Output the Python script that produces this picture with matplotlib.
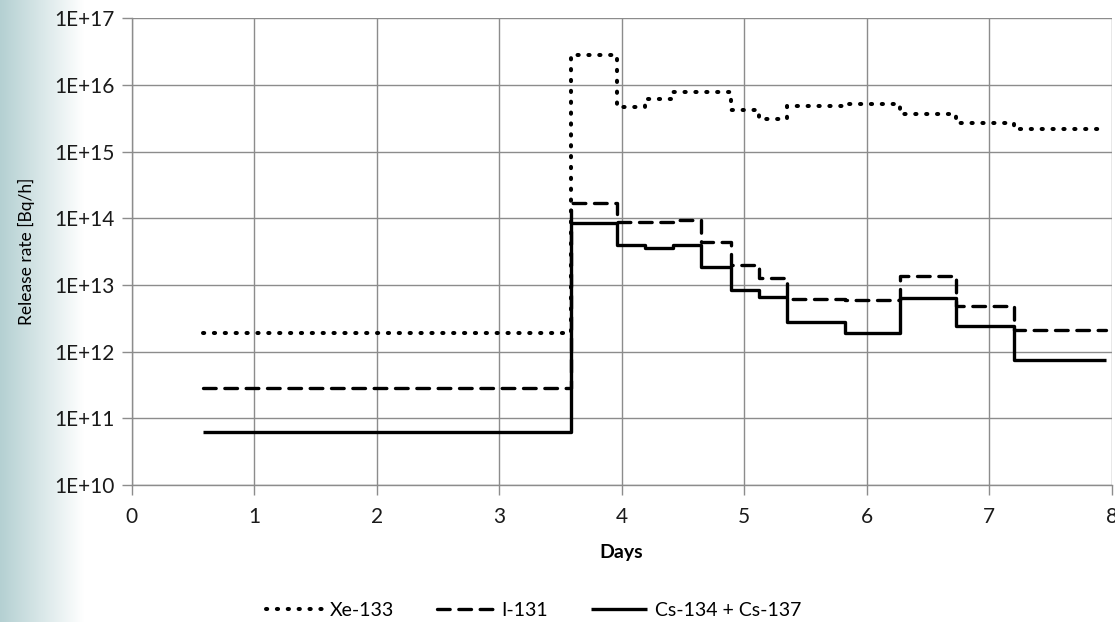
import numpy as np
import matplotlib.pyplot as plt
from matplotlib.ticker import FixedLocator, NullLocator

plt.rcParams['font.family'] = ['Lato', 'DejaVu Sans']

# step start times [days]
days = [0.58, 3.59, 3.96, 4.19, 4.42, 4.65, 4.89, 5.12, 5.35, 5.82, 6.27, 6.73, 7.20, 7.95]

# release rate on each interval [Bq/h]
xe133 = [1.9e12, 2.8e16, 4.65e15, 6.15e15, 7.9e15, 7.9e15, 4.15e15, 3.1e15,
         4.76e15, 5.17e15, 3.7e15, 2.67e15, 2.15e15]
i131 = [2.8e11, 1.68e14, 8.9e13, 8.9e13, 9.4e13, 4.47e13, 2.0e13, 1.27e13,
        6.2e12, 6.0e12, 1.36e13, 4.8e12, 2.09e12]
cs = [6.2e10, 8.6e13, 3.98e13, 3.55e13, 3.98e13, 1.88e13, 8.3e12, 6.7e12,
      2.8e12, 1.93e12, 6.3e12, 2.43e12, 7.4e11]

ytick_vals = [1e10, 1e11, 1e12, 1e13, 1e14, 1e15, 1e16, 1e17]
ytick_labels = ['1E+10', '1E+11', '1E+12', '1E+13', '1E+14', '1E+15', '1E+16', '1E+17']

grid_col = '#8c8c8c'

fig = plt.figure(figsize=(11.15, 6.22), dpi=100)

# soft teal fade at the left edge
bg = fig.add_axes([0, 0, 0.075, 1], zorder=-10)
left = np.array([180, 208, 210]) / 255.0
t = np.linspace(0, 1, 200)[None, :, None]
grad = left * (1 - t) + np.ones(3) * t
bg.imshow(np.repeat(grad, 2, axis=0), aspect='auto', extent=[0, 1, 0, 1])
bg.axis('off')

ax = fig.add_axes([0.1181, 0.2203, 0.8789, 0.7503])
ax.patch.set_alpha(0)

def stepped(v):
    return list(v) + [v[-1]]

lw = 2.4
ax.plot(days, stepped(xe133), drawstyle='steps-post', color='black', lw=2.9,
        linestyle=(0, (0.3, 2.4)), dash_capstyle='round', label='Xe-133')
ax.plot(days, stepped(i131), drawstyle='steps-post', color='black', lw=lw,
        linestyle=(0, (3.8, 2.6)), dash_capstyle='round', label='I-131')
ax.plot(days, stepped(cs), drawstyle='steps-post', color='black', lw=lw,
        solid_capstyle='butt', label='Cs-134 + Cs-137')

ax.set_yscale('log')
ax.set_ylim(1e10, 1e17)
ax.set_xlim(0, 8)
ax.yaxis.set_major_locator(FixedLocator(ytick_vals))
ax.yaxis.set_minor_locator(NullLocator())
ax.set_yticklabels(ytick_labels)
ax.set_xticks(range(9))

ax.grid(True, color=grid_col, lw=1)
ax.set_axisbelow(True)
for s in ['top', 'right']:
    ax.spines[s].set_visible(False)
for s in ['left', 'bottom']:
    ax.spines[s].set_color(grid_col)
    ax.spines[s].set_linewidth(1)
ax.tick_params(axis='both', colors=grid_col, length=7, width=1, labelcolor='#1a1a1a',
               labelsize=15)
ax.tick_params(axis='x', pad=9)
ax.tick_params(axis='y', pad=5)

ax.set_xlabel('Days', fontsize=14, fontweight='bold', labelpad=12)
ax.set_ylabel('Release rate [Bq/h]', fontsize=12.5, labelpad=14)

ax.legend(loc='center', bbox_to_anchor=(0.41, -0.268), ncol=3, frameon=False,
          fontsize=14, handlelength=2.9, handletextpad=0.4, columnspacing=2.2)

fig.savefig('out.png', dpi=100)
